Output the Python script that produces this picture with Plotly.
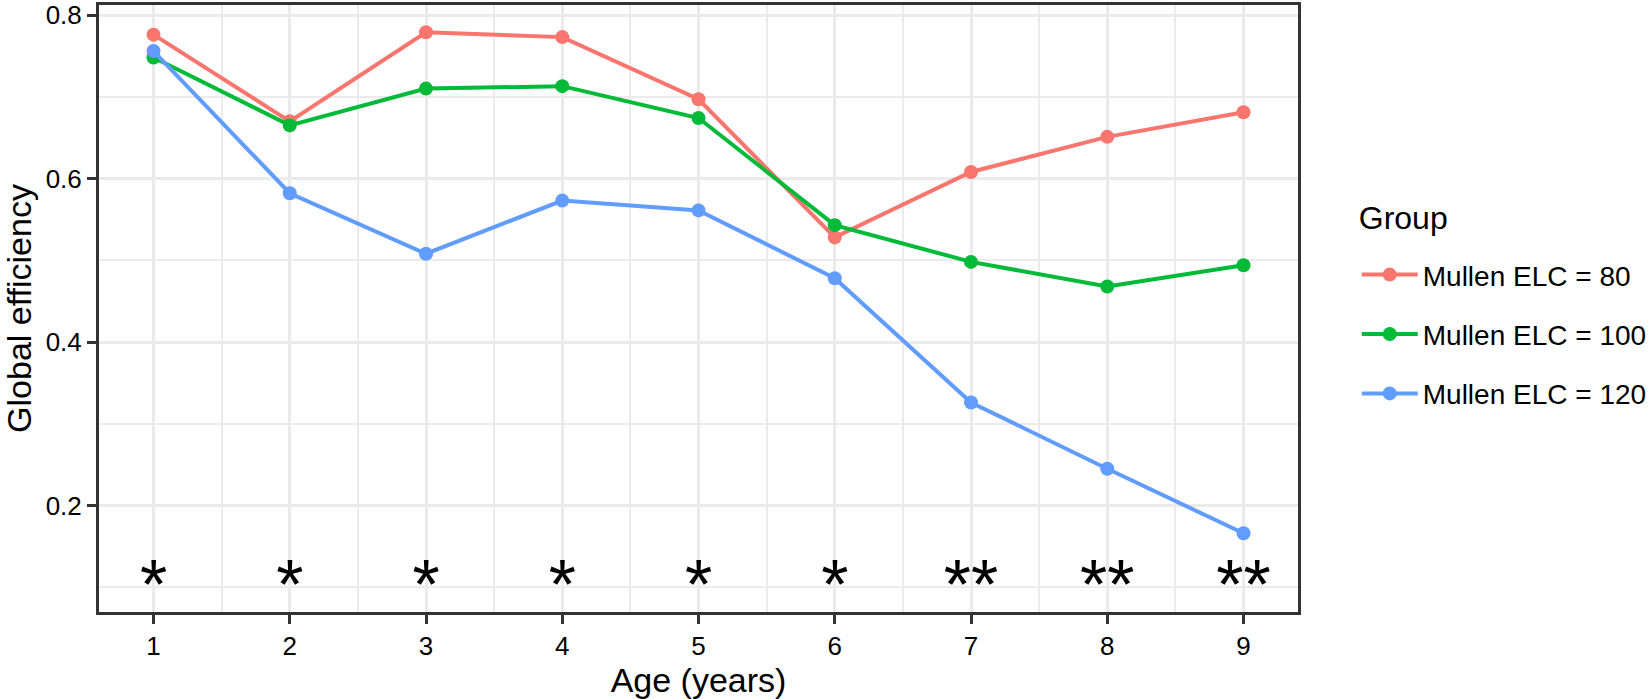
import plotly.graph_objects as go

ages = [1, 2, 3, 4, 5, 6, 7, 8, 9]
elc80 = [0.776, 0.670, 0.779, 0.773, 0.697, 0.528, 0.608, 0.651, 0.681]
elc100 = [0.748, 0.665, 0.710, 0.713, 0.674, 0.543, 0.498, 0.468, 0.494]
elc120 = [0.756, 0.582, 0.508, 0.573, 0.561, 0.478, 0.326, 0.245, 0.166]
stars = ["*", "*", "*", "*", "*", "*", "**", "**", "**"]
group_names = ["Mullen ELC = 80", "Mullen ELC = 100", "Mullen ELC = 120"]
colors = ["#F8766D", "#00BA38", "#619CFF"]

FONT = "Liberation Sans, Arial, sans-serif"
STAR_Y = 0.095

fig = go.Figure()
for i, (name, vals, col) in enumerate(zip(group_names, [elc80, elc100, elc120], colors)):
    extra = {}
    if i == 0:
        extra["legendgrouptitle"] = dict(text=" ", font=dict(family=FONT, size=14))
    fig.add_trace(go.Scatter(
        x=ages, y=vals, mode="lines+markers", name=name, legendgroup=name,
        line=dict(color=col, width=4),
        marker=dict(color=col, size=14),
        **extra,
    ))

fig.add_trace(go.Scatter(
    x=ages, y=[STAR_Y] * len(ages), mode="text", text=stars,
    textposition="middle center", showlegend=False,
    textfont=dict(family=FONT, size=70, color="black"),
    hoverinfo="skip",
))

axis_common = dict(
    showline=True, linecolor="#333333", linewidth=3, mirror=True,
    ticks="outside", ticklen=9, tickwidth=3, tickcolor="#333333",
    showgrid=True, gridcolor="#ebebeb", gridwidth=3,
    zeroline=False,
    tickfont=dict(family=FONT, size=26, color="black"),
)

fig.update_xaxes(
    range=[0.6, 9.4], tickmode="array", tickvals=ages,
    ticktext=[str(a) for a in ages],
    minor=dict(dtick=0.5, tick0=0.5, showgrid=True, gridcolor="#ebebeb", gridwidth=1.7, ticks=""),
    title=dict(text="Age (years)", font=dict(family=FONT, size=34, color="black"), standoff=7),
    **axis_common,
)
fig.update_yaxes(
    range=[0.0697, 0.8123], tickmode="array", tickvals=[0.2, 0.4, 0.6, 0.8],
    ticktext=["0.2", "0.4", "0.6", "0.8"],
    minor=dict(dtick=0.1, tick0=0.1, showgrid=True, gridcolor="#ebebeb", gridwidth=1.7, ticks=""),
    title=dict(text="Global efficiency", font=dict(family=FONT, size=34, color="black"), standoff=12),
    **axis_common,
)

fig.update_layout(
    width=1652, height=699,
    margin=dict(l=99, r=354, t=5, b=87, autoexpand=False),
    plot_bgcolor="white", paper_bgcolor="white",
    font=dict(family=FONT, color="black"),
    legend=dict(
        x=1.049, xanchor="left", y=0.70, yanchor="top",
        title=dict(text="Group", font=dict(family=FONT, size=32, color="black")),
        font=dict(family=FONT, size=28, color="black"),
        itemwidth=56, tracegroupgap=20, bgcolor="rgba(0,0,0,0)",
    ),
)

fig.write_html("out.html", config={"displayModeBar": False},
               post_script="document.body.style.margin='0px';")
